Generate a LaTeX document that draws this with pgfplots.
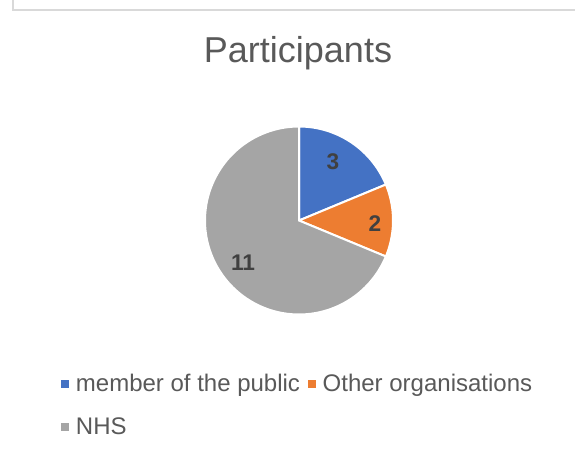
\documentclass[border=0pt]{standalone}
\usepackage{pgfplots}
\pgfplotsset{compat=1.18}
\usepackage{fontspec}
\setmainfont{Liberation Sans}
\definecolor{cblue}{HTML}{4472C4}
\definecolor{corange}{HTML}{ED7D31}
\definecolor{cgray}{HTML}{A5A5A5}
\definecolor{ctext}{HTML}{595959}
\definecolor{clabel}{HTML}{404040}
\definecolor{cframe}{HTML}{D9D9D9}
% data
\def\vA{3}   % member of the public
\def\vB{2}   % Other organisations
\def\vC{11}  % NHS
\pgfmathsetmacro{\tot}{\vA+\vB+\vC}
\pgfmathsetmacro{\aA}{90}
\pgfmathsetmacro{\aB}{90-360*\vA/\tot}
\pgfmathsetmacro{\aC}{\aB-360*\vB/\tot}
\pgfmathsetmacro{\aD}{\aC-360*\vC/\tot}
\def\cx{299}
\def\cy{234.5}
\def\R{94}
\begin{document}
\begin{tikzpicture}
\begin{axis}[name=ax,
  scale only axis, width=431.25pt, height=341.25pt,
  xmin=0, xmax=575, ymin=0, ymax=455,
  hide axis, clip=false,
  legend columns=2,
  legend style={draw=none, fill=none, font=\fontsize{18}{21}\selectfont,
    text=ctext, at={(axis cs:61,49.5)}, anchor=west, inner sep=0pt,
    /tikz/every odd column/.append style={column sep=3pt},
    /tikz/every even column/.append style={column sep=4pt},
    row sep=14pt},
  legend cell align=left,
  legend image code/.code={\fill[#1,draw=none] (0pt,-3pt) rectangle (6pt,3pt);},
]
\draw[cframe, line width=1.2pt] (axis cs:13,455) -- (axis cs:13,445) -- (axis cs:575,445);
\addplot[fill=cblue, draw=white, line width=1.5pt, domain=\aA:\aB, samples=40]
  ({\cx+\R*cos(x)},{\cy+\R*sin(x)}) -- (axis cs:\cx,\cy) -- cycle;
\addlegendentry{member of the public}
\addplot[fill=corange, draw=white, line width=1.5pt, domain=\aB:\aC, samples=30]
  ({\cx+\R*cos(x)},{\cy+\R*sin(x)}) -- (axis cs:\cx,\cy) -- cycle;
\addlegendentry{Other organisations}
\addplot[fill=cgray, draw=white, line width=1.5pt, domain=\aC:\aD, samples=120]
  ({\cx+\R*cos(x)},{\cy+\R*sin(x)}) -- (axis cs:\cx,\cy) -- cycle;
\addlegendentry{NHS}
\node[text=ctext, font=\fontsize{27}{32}\selectfont] at (axis cs:298,402) {Participants};
\node[text=clabel, font=\fontsize{17}{20}\selectfont\bfseries] at (axis cs:333,293) {\vA};
\node[text=clabel, font=\fontsize{17}{20}\selectfont\bfseries] at (axis cs:375,231) {\vB};
\node[text=clabel, font=\fontsize{17}{20}\selectfont\bfseries] at (axis cs:243,192) {\vC};
\end{axis}
\pgfresetboundingbox
\useasboundingbox (ax.south west) rectangle (ax.north east);
\end{tikzpicture}
\end{document}
